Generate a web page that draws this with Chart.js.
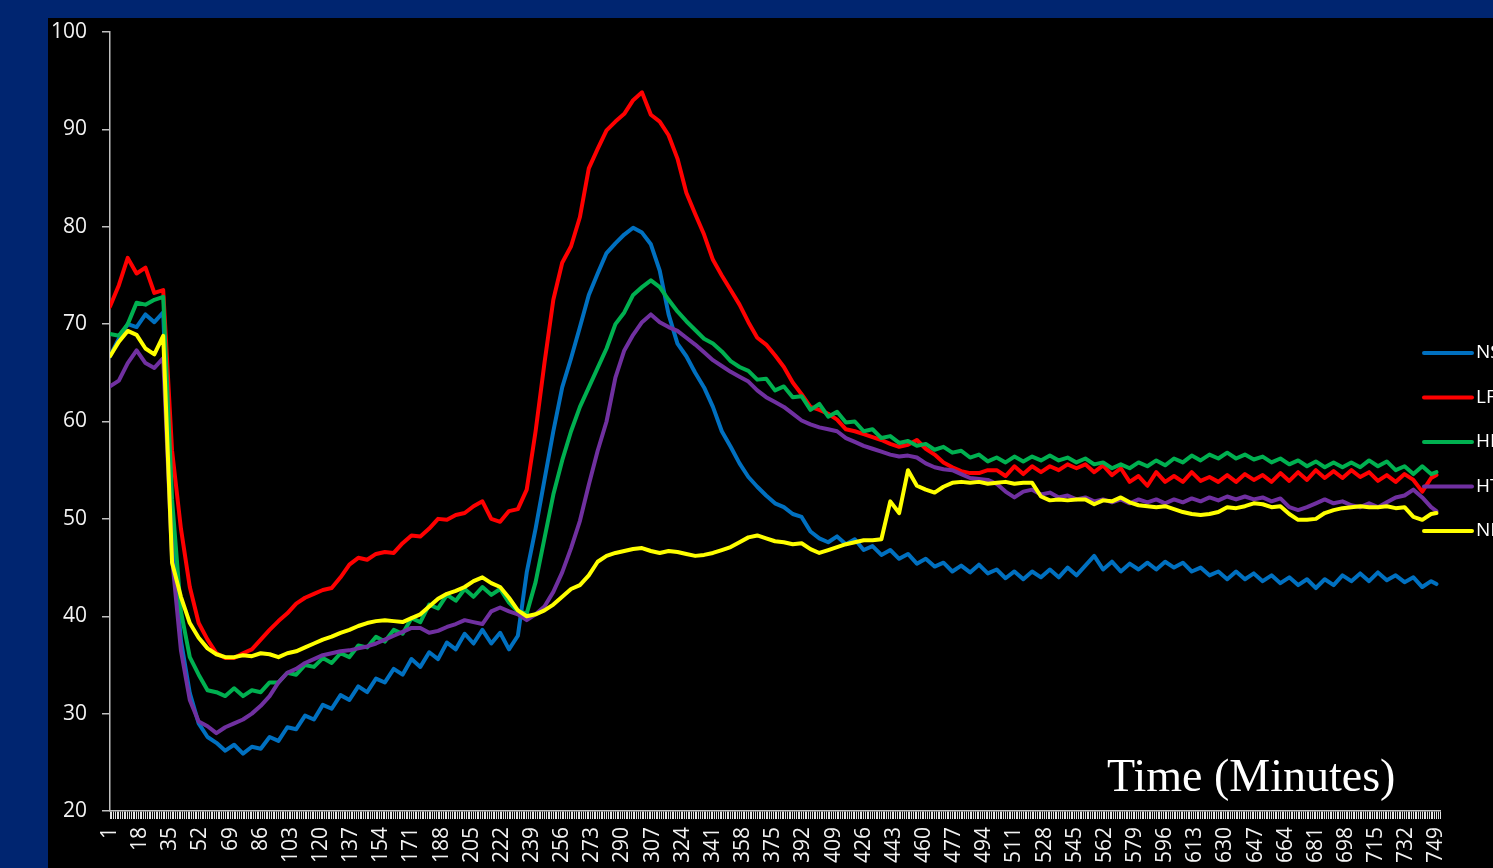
<!DOCTYPE html>
<html lang="en">

<head>
    <meta charset="UTF-8">
    <title>Time (Minutes)</title>
    <style>
        body {
            margin: 0;
            padding: 0;
            background-color: #002570;
            overflow: hidden;
            width: 1493px;
            height: 868px;
        }

        .panel {
            position: absolute;
            left: 48px;
            top: 18px;
            width: 1445px;
            height: 850px;
            background: #000000;
        }
    </style>
</head>

<body>
    <div class="panel">
        <canvas id="timeChart"></canvas>
    </div>

    <script src="https://cdn.jsdelivr.net/npm/chart.js"></script>
    <script>
        // Sample times (minutes), every 5 minutes plus the last reading
        const minutes = [];
        for (let m = 1; m <= 746; m += 5) minutes.push(m);
        minutes.push(749);

        // Labelled ticks on the time axis
        const timeLabels = [1, 18, 35, 52, 69, 86, 103, 120, 137, 154, 171, 188, 205, 222, 239, 256, 273, 290,
            307, 324, 341, 358, 375, 392, 409, 426, 443, 460, 477, 494, 511, 528, 545, 562, 579, 596, 613, 630,
            647, 664, 681, 698, 715, 732, 749];

        const seriesNames = ["NS", "LF", "HF", "HT", "NL"];
        const seriesColors = ["#0070C0", "#FF0000", "#00B050", "#7030A0", "#FFFF00"];

        const nsValues = [
            66.7, 68.5, 70, 69.7, 71, 70.2, 71.2, 48, 37.5, 32.1,
            29, 27.6, 27, 26.2, 26.8, 25.9, 26.6, 26.4, 27.6, 27.2,
            28.6, 28.4, 29.8, 29.4, 30.9, 30.5, 31.9, 31.4, 32.8, 32.2,
            33.6, 33.2, 34.6, 34, 35.6, 34.8, 36.3, 35.6, 37.3, 36.6,
            38.2, 37.2, 38.6, 37.2, 38.3, 36.6, 38, 44.5, 49, 54,
            59, 63.5, 66.5, 69.7, 73, 75.2, 77.3, 78.3, 79.2, 79.9,
            79.4, 78.2, 75.5, 71, 68, 66.7, 65, 63.5, 61.5, 59,
            57.4, 55.7, 54.3, 53.3, 52.4, 51.6, 51.2, 50.5, 50.2, 48.7,
            48, 47.6, 48.2, 47.4, 47.9, 46.8, 47.2, 46.3, 46.8, 45.9,
            46.4, 45.4, 45.9, 45.1, 45.5, 44.6, 45.2, 44.5, 45.3, 44.4,
            44.8, 43.9, 44.6, 43.8, 44.6, 44, 44.8, 44, 45, 44.2,
            45.2, 46.2, 44.8, 45.6, 44.6, 45.4, 44.8, 45.5, 44.8, 45.6,
            45, 45.5, 44.6, 45, 44.2, 44.6, 43.8, 44.6, 43.8, 44.4,
            43.6, 44.2, 43.4, 44, 43.2, 43.8, 42.9, 43.8, 43.2, 44.2,
            43.6, 44.4, 43.6, 44.5, 43.7, 44.2, 43.5, 44, 43, 43.6,
            43.3
        ];

        const lfValues = [
            71.8, 74, 76.8, 75.2, 75.8, 73.2, 73.5, 57, 49, 43,
            39.3, 37.6, 36.2, 35.7, 35.7, 36.2, 36.6, 37.6, 38.6, 39.5,
            40.3, 41.3, 41.9, 42.3, 42.7, 42.9, 44, 45.3, 46, 45.8,
            46.4, 46.6, 46.5, 47.5, 48.3, 48.2, 49, 50, 49.9, 50.4,
            50.6, 51.3, 51.8, 50, 49.7, 50.8, 51, 53, 59, 66,
            72.5, 76.3, 78, 81, 86, 88, 89.9, 90.8, 91.6, 93,
            93.8, 91.5, 90.8, 89.4, 87, 83.5, 81.3, 79.2, 76.6, 75,
            73.5, 72, 70.2, 68.6, 67.9, 66.8, 65.6, 64, 62.8, 61.5,
            61.2, 60.8, 60.2, 59.2, 59, 58.7, 58.4, 58.1, 57.7, 57.4,
            57.6, 58.1, 57.2, 56.6, 55.8, 55.3, 54.9, 54.7, 54.7, 55,
            55, 54.4, 55.4, 54.6, 55.4, 54.8, 55.4, 55, 55.6, 55.2,
            55.6, 54.8, 55.5, 54.5, 55.2, 53.8, 54.4, 53.4, 54.8, 53.8,
            54.4, 53.8, 54.8, 53.9, 54.3, 53.8, 54.5, 53.8, 54.6, 54,
            54.5, 53.8, 54.7, 53.9, 54.8, 54, 55, 54.2, 54.9, 54.2,
            55, 54.3, 54.8, 53.9, 54.5, 53.8, 54.6, 54, 52.8, 54.2,
            54.5
        ];

        const hfValues = [
            69, 68.8, 70, 72.2, 72, 72.5, 72.8, 52, 40.5, 35.8,
            34, 32.4, 32.2, 31.8, 32.6, 31.8, 32.4, 32.2, 33.2, 33.2,
            34.2, 34, 35, 34.8, 35.7, 35.2, 36.2, 35.8, 37, 36.8,
            37.9, 37.4, 38.6, 38.2, 39.8, 39.4, 41.2, 40.8, 42.2, 41.6,
            42.8, 42, 43, 42.2, 42.8, 41.4, 40.5, 40.3, 43.5, 48,
            52.5, 56, 59, 61.5, 63.5, 65.5, 67.5, 70, 71.2, 73,
            73.8, 74.5, 73.8, 72.5, 71.3, 70.3, 69.4, 68.5, 68, 67.2,
            66.2, 65.6, 65.2, 64.3, 64.4, 63.2, 63.6, 62.5, 62.6, 61.2,
            61.8, 60.5, 61, 59.9, 60, 59, 59.2, 58.3, 58.5, 57.8,
            58, 57.5, 57.7, 57.1, 57.4, 56.8, 57, 56.3, 56.6, 55.9,
            56.3, 55.8, 56.4, 55.9, 56.4, 56, 56.5, 56, 56.3, 55.8,
            56.2, 55.6, 55.8, 55.2, 55.6, 55.2, 55.8, 55.4, 56, 55.5,
            56.2, 55.8, 56.5, 56, 56.6, 56.2, 56.8, 56.2, 56.6, 56.1,
            56.4, 55.8, 56.2, 55.6, 56, 55.4, 55.9, 55.3, 55.8, 55.3,
            55.8, 55.3, 56, 55.4, 55.9, 55, 55.4, 54.6, 55.4, 54.6,
            54.8
        ];

        const htValues = [
            63.6, 64.2, 66, 67.3, 66, 65.5, 66.5, 46, 36.5, 31.4,
            29.2, 28.7, 28, 28.6, 29, 29.4, 30, 30.8, 31.8, 33.2,
            34.2, 34.6, 35.2, 35.6, 36, 36.2, 36.4, 36.5, 36.7, 36.9,
            37.2, 37.6, 38, 38.4, 38.8, 38.8, 38.3, 38.5, 38.9, 39.2,
            39.6, 39.4, 39.2, 40.5, 40.9, 40.5, 40.2, 39.6, 40.2, 41,
            42.5, 44.5, 47, 49.8, 53.5, 57, 60, 64.5, 67.3, 68.9,
            70.2, 71, 70.2, 69.7, 69.3, 68.6, 67.9, 67.1, 66.3, 65.7,
            65.1, 64.6, 64.1, 63.2, 62.5, 62, 61.5, 60.8, 60.1, 59.7,
            59.4, 59.2, 59, 58.3, 57.9, 57.5, 57.2, 56.9, 56.6, 56.4,
            56.5, 56.3, 55.7, 55.3, 55.1, 55, 54.6, 54.2, 54.1, 54,
            53.6, 52.8, 52.2, 52.8, 53, 52.5, 52.7, 52.2, 52.4, 52,
            52.2, 51.8, 52, 51.7, 52, 51.6, 52, 51.7, 52, 51.6,
            52, 51.7, 52.1, 51.8, 52.2, 51.9, 52.3, 52, 52.3, 52,
            52.2, 51.8, 52.1, 51.2, 50.9, 51.2, 51.6, 52, 51.6, 51.8,
            51.4, 51.2, 51.6, 51.2, 51.7, 52.2, 52.4, 53, 52.2, 51.2,
            50.8
        ];

        const nlValues = [
            66.7, 68.2, 69.3, 68.9, 67.5, 66.9, 68.8, 45.5, 42, 39.3,
            37.8, 36.7, 36.1, 35.8, 35.8, 36, 35.9, 36.2, 36.1, 35.8,
            36.2, 36.4, 36.8, 37.2, 37.6, 37.9, 38.3, 38.6, 39, 39.3,
            39.5, 39.6, 39.5, 39.4, 39.8, 40.2, 41, 41.8, 42.3, 42.6,
            43, 43.6, 44, 43.4, 43, 41.9, 40.6, 40, 40.2, 40.6,
            41.2, 42, 42.8, 43.2, 44.2, 45.6, 46.2, 46.5, 46.7, 46.9,
            47, 46.7, 46.5, 46.7, 46.6, 46.4, 46.2, 46.3, 46.5, 46.8,
            47.1, 47.6, 48.1, 48.3, 48, 47.7, 47.6, 47.4, 47.5, 46.9,
            46.5, 46.8, 47.1, 47.4, 47.6, 47.8, 47.8, 47.9, 51.8, 50.6,
            55, 53.4, 53, 52.7, 53.3, 53.7, 53.8, 53.7, 53.8, 53.6,
            53.7, 53.8, 53.6, 53.7, 53.7, 52.3, 51.9, 52, 51.9, 52,
            52, 51.5, 51.9, 51.8, 52.2, 51.7, 51.4, 51.3, 51.2, 51.3,
            51, 50.7, 50.5, 50.4, 50.5, 50.7, 51.2, 51.1, 51.3, 51.6,
            51.5, 51.2, 51.3, 50.5, 49.9, 49.9, 50, 50.6, 50.9, 51.1,
            51.2, 51.3, 51.2, 51.2, 51.3, 51.1, 51.2, 50.2, 49.9, 50.5,
            50.6
        ];

        const seriesValues = [nsValues, lfValues, hfValues, htValues, nlValues];

        // every minute gets a small tick mark, like the Excel category axis
        const allTicks = [];
        for (let m = 1; m <= 751; m++) allTicks.push({ value: m });

        const axisFont = { family: "'Open Sans'", size: 21 };

        // legend at the right edge, overlapping the plot, plus the axis caption
        const sideLegend = {
            id: "sideLegend",
            afterDraw(chart) {
                const ctx = chart.ctx;
                ctx.save();
                chart.data.datasets.forEach((ds, i) => {
                    const y = 335 + i * 44.5;
                    ctx.strokeStyle = ds.borderColor;
                    ctx.lineWidth = 4;
                    ctx.lineCap = "round";
                    ctx.beginPath();
                    ctx.moveTo(1376, y);
                    ctx.lineTo(1424, y);
                    ctx.stroke();
                    ctx.fillStyle = "#ffffff";
                    ctx.font = "19px 'Open Sans'";
                    ctx.textBaseline = "middle";
                    ctx.fillText(ds.label, 1428, y);
                });
                ctx.font = "46px 'Liberation Serif'";
                ctx.textBaseline = "alphabetic";
                ctx.fillStyle = "#ffffff";
                ctx.fillText("Time (Minutes)", 1059, 773);
                ctx.restore();
            }
        };

        const datasets = seriesNames.map((name, i) => ({
            label: name,
            data: minutes.map((m, j) => ({ x: m, y: seriesValues[i][j] })),
            borderColor: seriesColors[i],
            backgroundColor: seriesColors[i],
            borderWidth: 4,
            borderJoinStyle: "round",
            borderCapStyle: "round",
            pointRadius: 0,
            tension: 0,
            order: seriesNames.length - i
        }));

        new Chart(document.getElementById("timeChart"), {
            type: "line",
            data: { datasets: datasets },
            options: {
                responsive: true,
                maintainAspectRatio: false,
                animation: false,
                layout: { padding: { top: 14, right: 53, bottom: 0, left: 0 } },
                plugins: {
                    legend: { display: false },
                    tooltip: { enabled: false }
                },
                scales: {
                    x: {
                        type: "linear",
                        min: 1,
                        max: 751,
                        afterBuildTicks: (axis) => { axis.ticks = allTicks.slice(); },
                        afterFit: (axis) => { axis.height = 57; },
                        ticks: {
                            autoSkip: false,
                            minRotation: 90,
                            maxRotation: 90,
                            padding: 8,
                            color: "#f2f2f2",
                            font: axisFont,
                            callback: (value) => timeLabels.includes(value) ? String(value) : ""
                        },
                        grid: {
                            drawOnChartArea: false,
                            drawTicks: true,
                            tickLength: 8,
                            color: "#e0e0e0",
                            lineWidth: 1
                        },
                        border: { color: "#bfbfbf", width: 1.5 }
                    },
                    y: {
                        min: 20,
                        max: 100,
                        afterFit: (axis) => {
                            axis.width = 62;
                            axis.paddingTop = 0;
                            axis.paddingBottom = 0;
                        },
                        ticks: {
                            stepSize: 10,
                            padding: 15,
                            color: "#f2f2f2",
                            font: axisFont
                        },
                        grid: {
                            drawOnChartArea: false,
                            drawTicks: true,
                            tickLength: 8,
                            color: "#bfbfbf",
                            lineWidth: 1.5
                        },
                        border: { color: "#bfbfbf", width: 1.5 }
                    }
                }
            },
            plugins: [sideLegend]
        });
    </script>
</body>

</html>
